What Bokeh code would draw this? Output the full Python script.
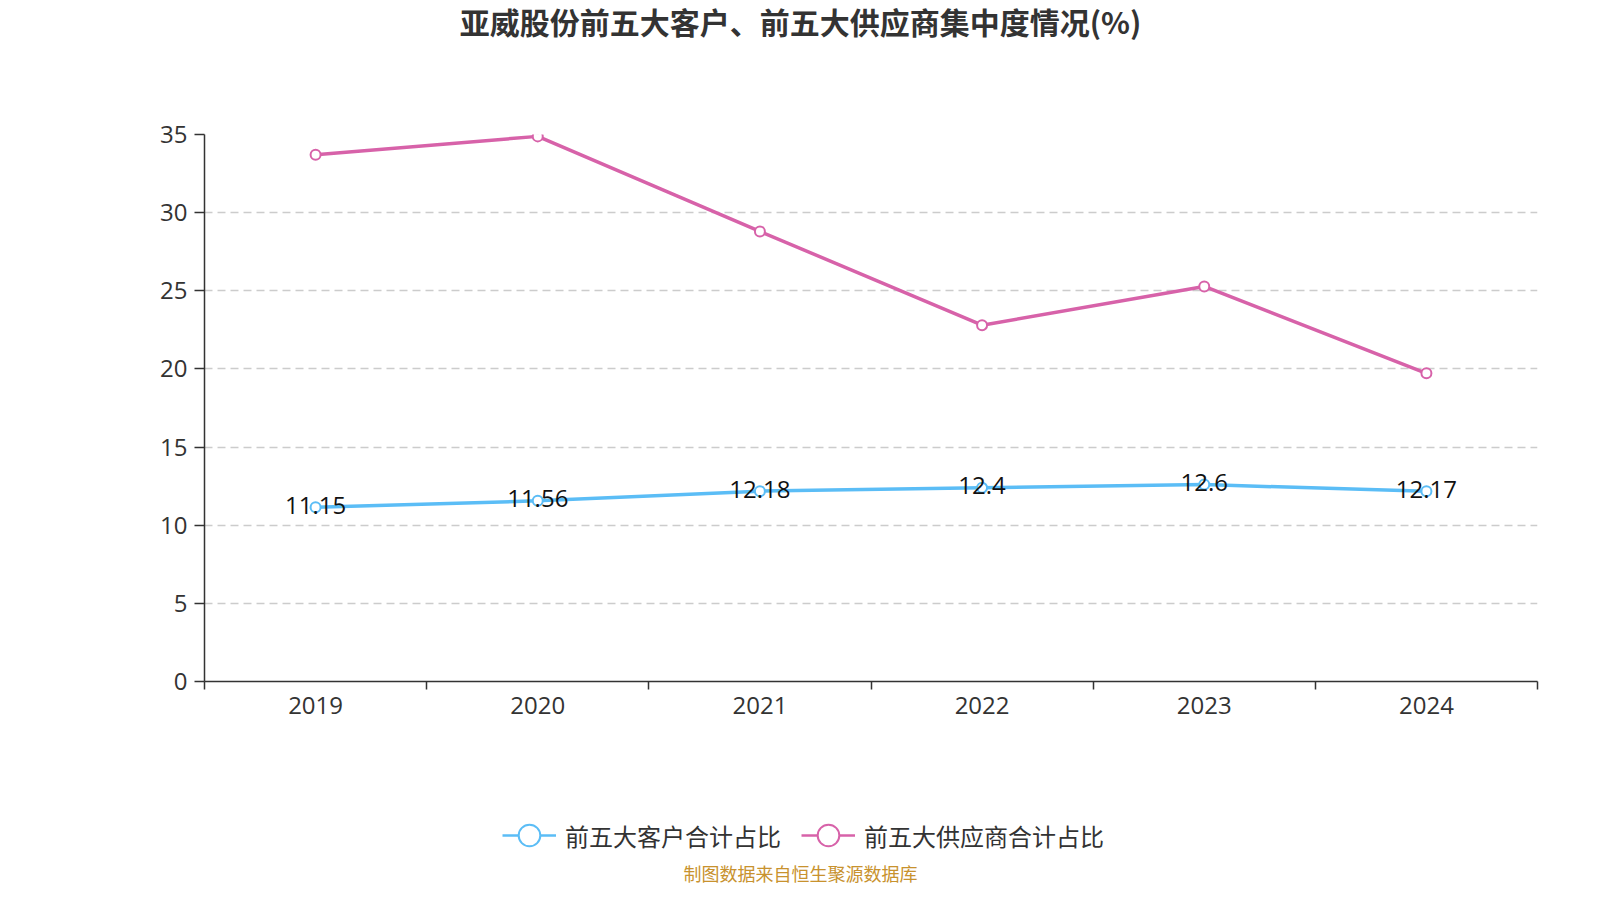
from bokeh.plotting import figure
from bokeh.layouts import column
from bokeh.models import Range1d, FixedTicker, Legend, LegendItem, Label
from bokeh.core.properties import value
from bokeh.embed import file_html
from bokeh.resources import INLINE

years = ["2019", "2020", "2021", "2022", "2023", "2024"]
customers = [11.15, 11.56, 12.18, 12.4, 12.6, 12.17]
suppliers = [33.7, 34.88, 28.8, 22.8, 25.28, 19.72]
y_ticks = [0, 5, 10, 15, 20, 25, 30, 35]

title_text = "亚威股份前五大客户、前五大供应商集中度情况(%)"
name_c = "前五大客户合计占比"
name_s = "前五大供应商合计占比"
footer_text = "制图数据来自恒生聚源数据库"

blue = "#5bbdf6"
pink = "#d762a9"
cjk = "Noto Sans CJK SC"
lat = "Open Sans"

W = 1584
HEAD_H, MAIN_H, FOOT_H = 100, 648, 136
FL, FR = 204, 1537
FT, FB = 134 - HEAD_H, 681 - HEAD_H


def blank(h):
    # frame spans canvas x FL..FR, so data x == canvas pixel x
    f = figure(width=W, height=h, output_backend="svg", toolbar_location=None,
               x_range=Range1d(FL, FR), y_range=Range1d(0, h),
               min_border=0, min_border_left=FL, min_border_right=W - FR,
               min_border_top=0, min_border_bottom=0)
    f.axis.visible = False
    f.grid.visible = False
    f.outline_line_color = None
    f.background_fill_color = "white"
    f.border_fill_color = "white"
    return f


xs = [i + 0.5 for i in range(len(years))]

# ---------- header ----------
head = blank(HEAD_H)
head.add_layout(Label(x=W / 2 + 8, y=HEAD_H - 20, text=title_text, text_font=cjk,
                      text_font_size="30px", text_font_style="bold", text_color="#333333",
                      text_align="center", text_baseline="middle"))

# ---------- main chart ----------
p = figure(width=W, height=MAIN_H, output_backend="svg", toolbar_location=None,
           x_range=Range1d(0, len(years)), y_range=Range1d(0, 35),
           min_border=0, min_border_left=FL, min_border_right=W - FR,
           min_border_top=FT, min_border_bottom=MAIN_H - FB)
p.outline_line_color = None
p.background_fill_color = "white"
p.border_fill_color = "white"

p.xgrid.visible = False
p.ygrid.ticker = FixedTicker(ticks=y_ticks)
p.ygrid.grid_line_color = "#cccccc"
p.ygrid.grid_line_dash = "8 5"
p.ygrid.grid_line_width = 1.5

xa = p.xaxis[0]
xa.ticker = FixedTicker(ticks=xs, minor_ticks=list(range(len(years) + 1)))
xa.major_label_overrides = {x: y for x, y in zip(xs, years)}
xa.major_tick_out = 0
xa.major_tick_in = 0
xa.minor_tick_out = 8
xa.minor_tick_in = 0
xa.minor_tick_line_color = "#333333"
xa.minor_tick_line_width = 1.5
xa.axis_line_color = "#333333"
xa.axis_line_width = 1.5
xa.major_label_text_font = lat
xa.major_label_text_font_size = "24px"
xa.major_label_text_color = "#333333"
xa.major_label_standoff = 7

ya = p.yaxis[0]
ya.ticker = FixedTicker(ticks=y_ticks)
ya.minor_tick_line_color = None
ya.major_tick_out = 10
ya.major_tick_in = 0
ya.major_tick_line_color = "#333333"
ya.major_tick_line_width = 1.5
ya.axis_line_color = "#333333"
ya.axis_line_width = 1.5
ya.major_label_text_font = lat
ya.major_label_text_font_size = "24px"
ya.major_label_text_color = "#333333"
ya.major_label_standoff = 7

p.line(xs, customers, line_color=blue, line_width=3.5)
p.scatter(xs, customers, size=10, marker="circle", fill_color="white",
          line_color=blue, line_width=2)
p.line(xs, suppliers, line_color=pink, line_width=3.5)
p.scatter(xs, suppliers, size=10, marker="circle", fill_color="white",
          line_color=pink, line_width=2)

p.text(xs, customers, text=[str(v) for v in customers], text_font=value(lat),
       text_font_size="24px", text_color="#111111", text_align="center",
       text_baseline="middle", y_offset=-2)

# ---------- legend + footer ----------
foot = blank(FOOT_H)
# legend proxies: same series, lying outside this panel's visible range
lc = foot.line(xs, customers, line_color=blue, line_width=2.5)
sc = foot.scatter(xs, customers, marker="circle", size=10, fill_color="white",
                  line_color=blue, line_width=2)
ls = foot.line(xs, suppliers, line_color=pink, line_width=2.5)
ss = foot.scatter(xs, suppliers, marker="circle", size=10, fill_color="white",
                  line_color=pink, line_width=2)
legend = Legend(items=[LegendItem(label=name_c, renderers=[lc, sc]),
                       LegendItem(label=name_s, renderers=[ls, ss])],
                orientation="horizontal", location=(502 - FL, 20),
                glyph_width=54, glyph_height=58, label_standoff=9, spacing=20,
                label_text_font=cjk, label_text_font_size="24px",
                label_text_color="#333333", border_line_color=None,
                background_fill_alpha=0, padding=0, margin=0)
foot.add_layout(legend, "center")
foot.add_layout(Label(x=W / 2 + 8, y=12, text=footer_text, text_font=cjk,
                      text_font_size="18px", text_color="#c8922e",
                      text_align="center", text_baseline="middle"))

layout = column(head, p, foot, spacing=0)
open("out.html", "w").write(file_html(layout, INLINE))
